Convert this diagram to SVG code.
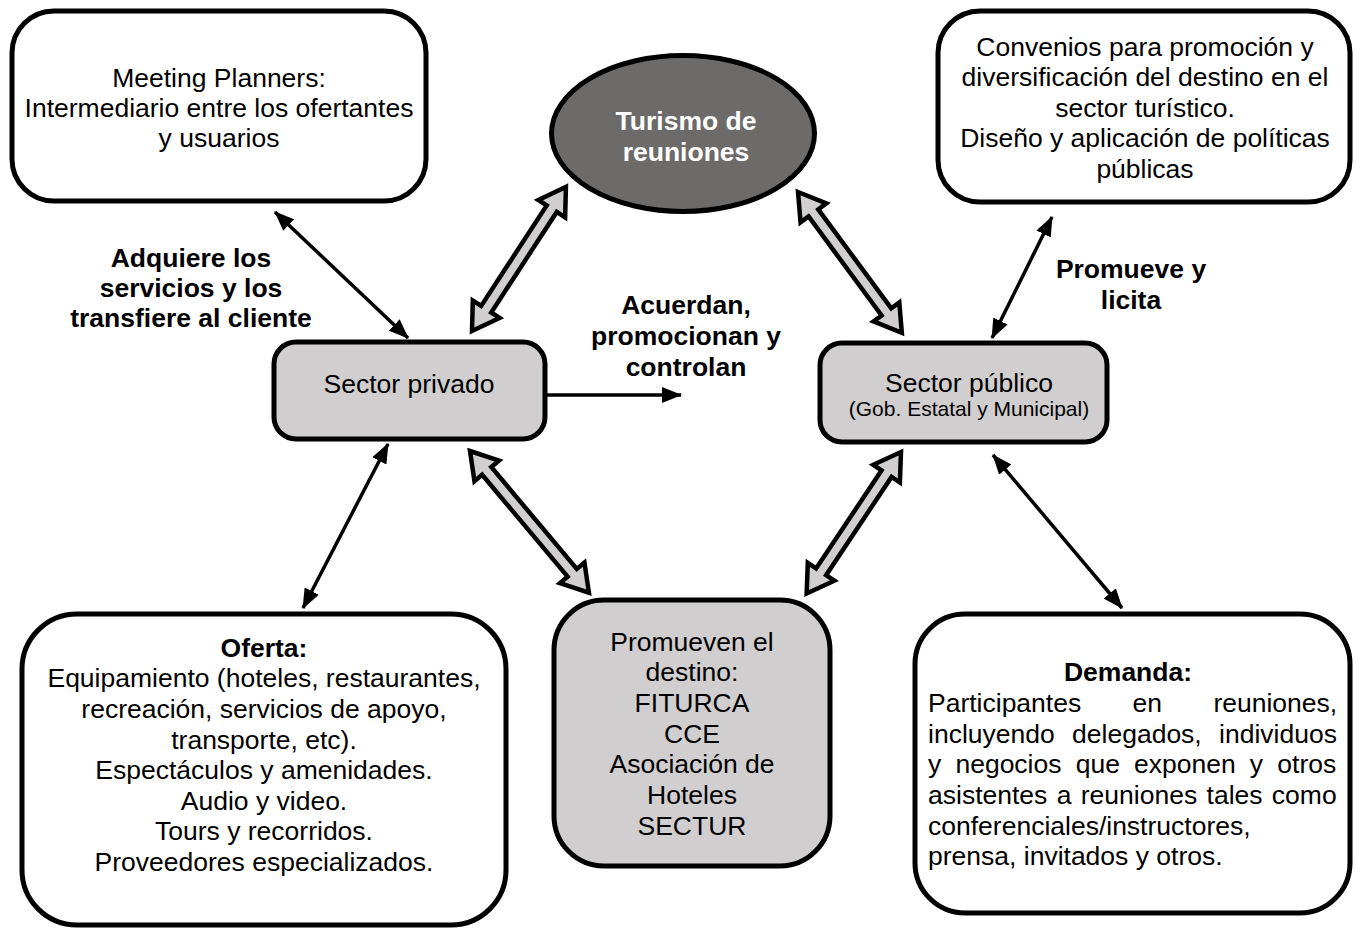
<svg xmlns="http://www.w3.org/2000/svg" width="1356" height="930" viewBox="0 0 1356 930">
<defs>
<style>
text{font-family:"Liberation Sans",Arial,sans-serif;font-size:26.5px;fill:#000}
.c{text-anchor:middle}
.b{font-weight:bold}
.w{fill:#fff}
.sm{font-size:21px}
.box{fill:#fff;stroke:#000;stroke-width:5}
.gbox{fill:#d0cece;stroke:#000;stroke-width:5}
.thin{stroke:#000;stroke-width:3.5;fill:none}
.blk{fill:#d0cece;stroke:#000;stroke-width:4.5;stroke-linejoin:miter}
</style>
<marker id="ah" markerUnits="userSpaceOnUse" markerWidth="20" markerHeight="16" viewBox="0 0 20 16" refX="19" refY="8" orient="auto-start-reverse">
<path d="M0,0 L20,8 L0,16 z" fill="#000"/>
</marker>
</defs>

<g id="connectors">
<line class="thin" x1="275" y1="212" x2="408" y2="338" marker-start="url(#ah)" marker-end="url(#ah)"/>
<line class="thin" x1="1052" y1="217" x2="992" y2="338" marker-start="url(#ah)" marker-end="url(#ah)"/>
<line class="thin" x1="388" y1="444" x2="303" y2="608" marker-start="url(#ah)" marker-end="url(#ah)"/>
<line class="thin" x1="993" y1="455" x2="1122" y2="608" marker-start="url(#ah)" marker-end="url(#ah)"/>
<line class="thin" x1="547" y1="395" x2="681" y2="395" marker-end="url(#ah)"/>
<path class="blk" transform="translate(472,331) rotate(-56.9)" d="M0,0 L26,-16 L26,-6 L146,-6 L146,-16 L172,0 L146,16 L146,6 L26,6 L26,16 Z"/>
<path class="blk" transform="translate(798,192) rotate(53.6)" d="M0,0 L26,-16 L26,-6 L149,-6 L149,-16 L175,0 L149,16 L149,6 L26,6 L26,16 Z"/>
<path class="blk" transform="translate(470,451) rotate(50)" d="M0,0 L26,-16 L26,-6 L159,-6 L159,-16 L185,0 L159,16 L159,6 L26,6 L26,16 Z"/>
<path class="blk" transform="translate(901,452) rotate(123.7)" d="M0,0 L26,-16 L26,-6 L144,-6 L144,-16 L170,0 L144,16 L144,6 L26,6 L26,16 Z"/>
</g>

<g id="lbl-adquiere">
<text class="c b" x="191" y="267">Adquiere los</text>
<text class="c b" x="191" y="297">servicios y los</text>
<text class="c b" x="191" y="327">transfiere al cliente</text>
</g>
<g id="lbl-acuerdan">
<text class="c b" x="686" y="314">Acuerdan,</text>
<text class="c b" x="686" y="345">promocionan y</text>
<text class="c b" x="686" y="376">controlan</text>
</g>
<g id="lbl-promueve">
<text class="c b" x="1131" y="278">Promueve y</text>
<text class="c b" x="1131" y="309">licita</text>
</g>

<g id="meeting-planners">
<rect class="box" x="12" y="11" width="414" height="190" rx="42"/>
<text class="c" x="219" y="87">Meeting Planners:</text>
<text class="c" x="219" y="117">Intermediario entre los ofertantes</text>
<text class="c" x="219" y="147">y usuarios</text>
</g>

<g id="turismo">
<ellipse cx="683" cy="133.5" rx="131.5" ry="78" fill="#6d6a6a" stroke="#000" stroke-width="5"/>
<text class="c b w" x="686" y="130">Turismo de</text>
<text class="c b w" x="686" y="161">reuniones</text>
</g>

<g id="convenios">
<rect class="box" x="938" y="11" width="412" height="191" rx="42"/>
<text class="c" x="1145" y="56">Convenios para promoción y</text>
<text class="c" x="1145" y="86">diversificación del destino en el</text>
<text class="c" x="1145" y="117">sector turístico.</text>
<text class="c" x="1145" y="147">Diseño y aplicación de políticas</text>
<text class="c" x="1145" y="178">públicas</text>
</g>

<g id="sector-privado">
<rect class="gbox" x="274" y="342" width="271" height="97" rx="22"/>
<text class="c" x="409" y="393">Sector privado</text>
</g>

<g id="sector-publico">
<rect class="gbox" x="820" y="343" width="287" height="99" rx="22"/>
<text class="c" x="969" y="392">Sector público</text>
<text class="c sm" x="969" y="416">(Gob. Estatal y Municipal)</text>
</g>

<g id="oferta">
<rect class="box" x="22" y="614" width="484" height="311" rx="55"/>
<text class="c b" x="264" y="657">Oferta:</text>
<text class="c" x="264" y="687">Equipamiento (hoteles, restaurantes,</text>
<text class="c" x="264" y="718">recreación, servicios de apoyo,</text>
<text class="c" x="264" y="749">transporte, etc).</text>
<text class="c" x="264" y="779">Espectáculos y amenidades.</text>
<text class="c" x="264" y="810">Audio y video.</text>
<text class="c" x="264" y="840">Tours y recorridos.</text>
<text class="c" x="264" y="871">Proveedores especializados.</text>
</g>

<g id="promueven">
<rect class="gbox" x="554" y="600" width="276" height="266" rx="50"/>
<text class="c" x="692" y="651">Promueven el</text>
<text class="c" x="692" y="681">destino:</text>
<text class="c" x="692" y="712">FITURCA</text>
<text class="c" x="692" y="743">CCE</text>
<text class="c" x="692" y="773">Asociación de</text>
<text class="c" x="692" y="804">Hoteles</text>
<text class="c" x="692" y="835">SECTUR</text>
</g>

<g id="demanda">
<rect class="box" x="915" y="614" width="435" height="299" rx="50"/>
<text class="c b" x="1128" y="681">Demanda:</text>
<text x="928" y="712" style="word-spacing:44px">Participantes en reuniones,</text>
<text x="928" y="743" style="word-spacing:10px">incluyendo delegados, individuos</text>
<text x="928" y="773" style="word-spacing:6.8px">y negocios que exponen y otros</text>
<text x="928" y="804" style="word-spacing:2px">asistentes a reuniones tales como</text>
<text x="928" y="835">conferenciales/instructores,</text>
<text x="928" y="865">prensa, invitados y otros.</text>
</g>
</svg>
